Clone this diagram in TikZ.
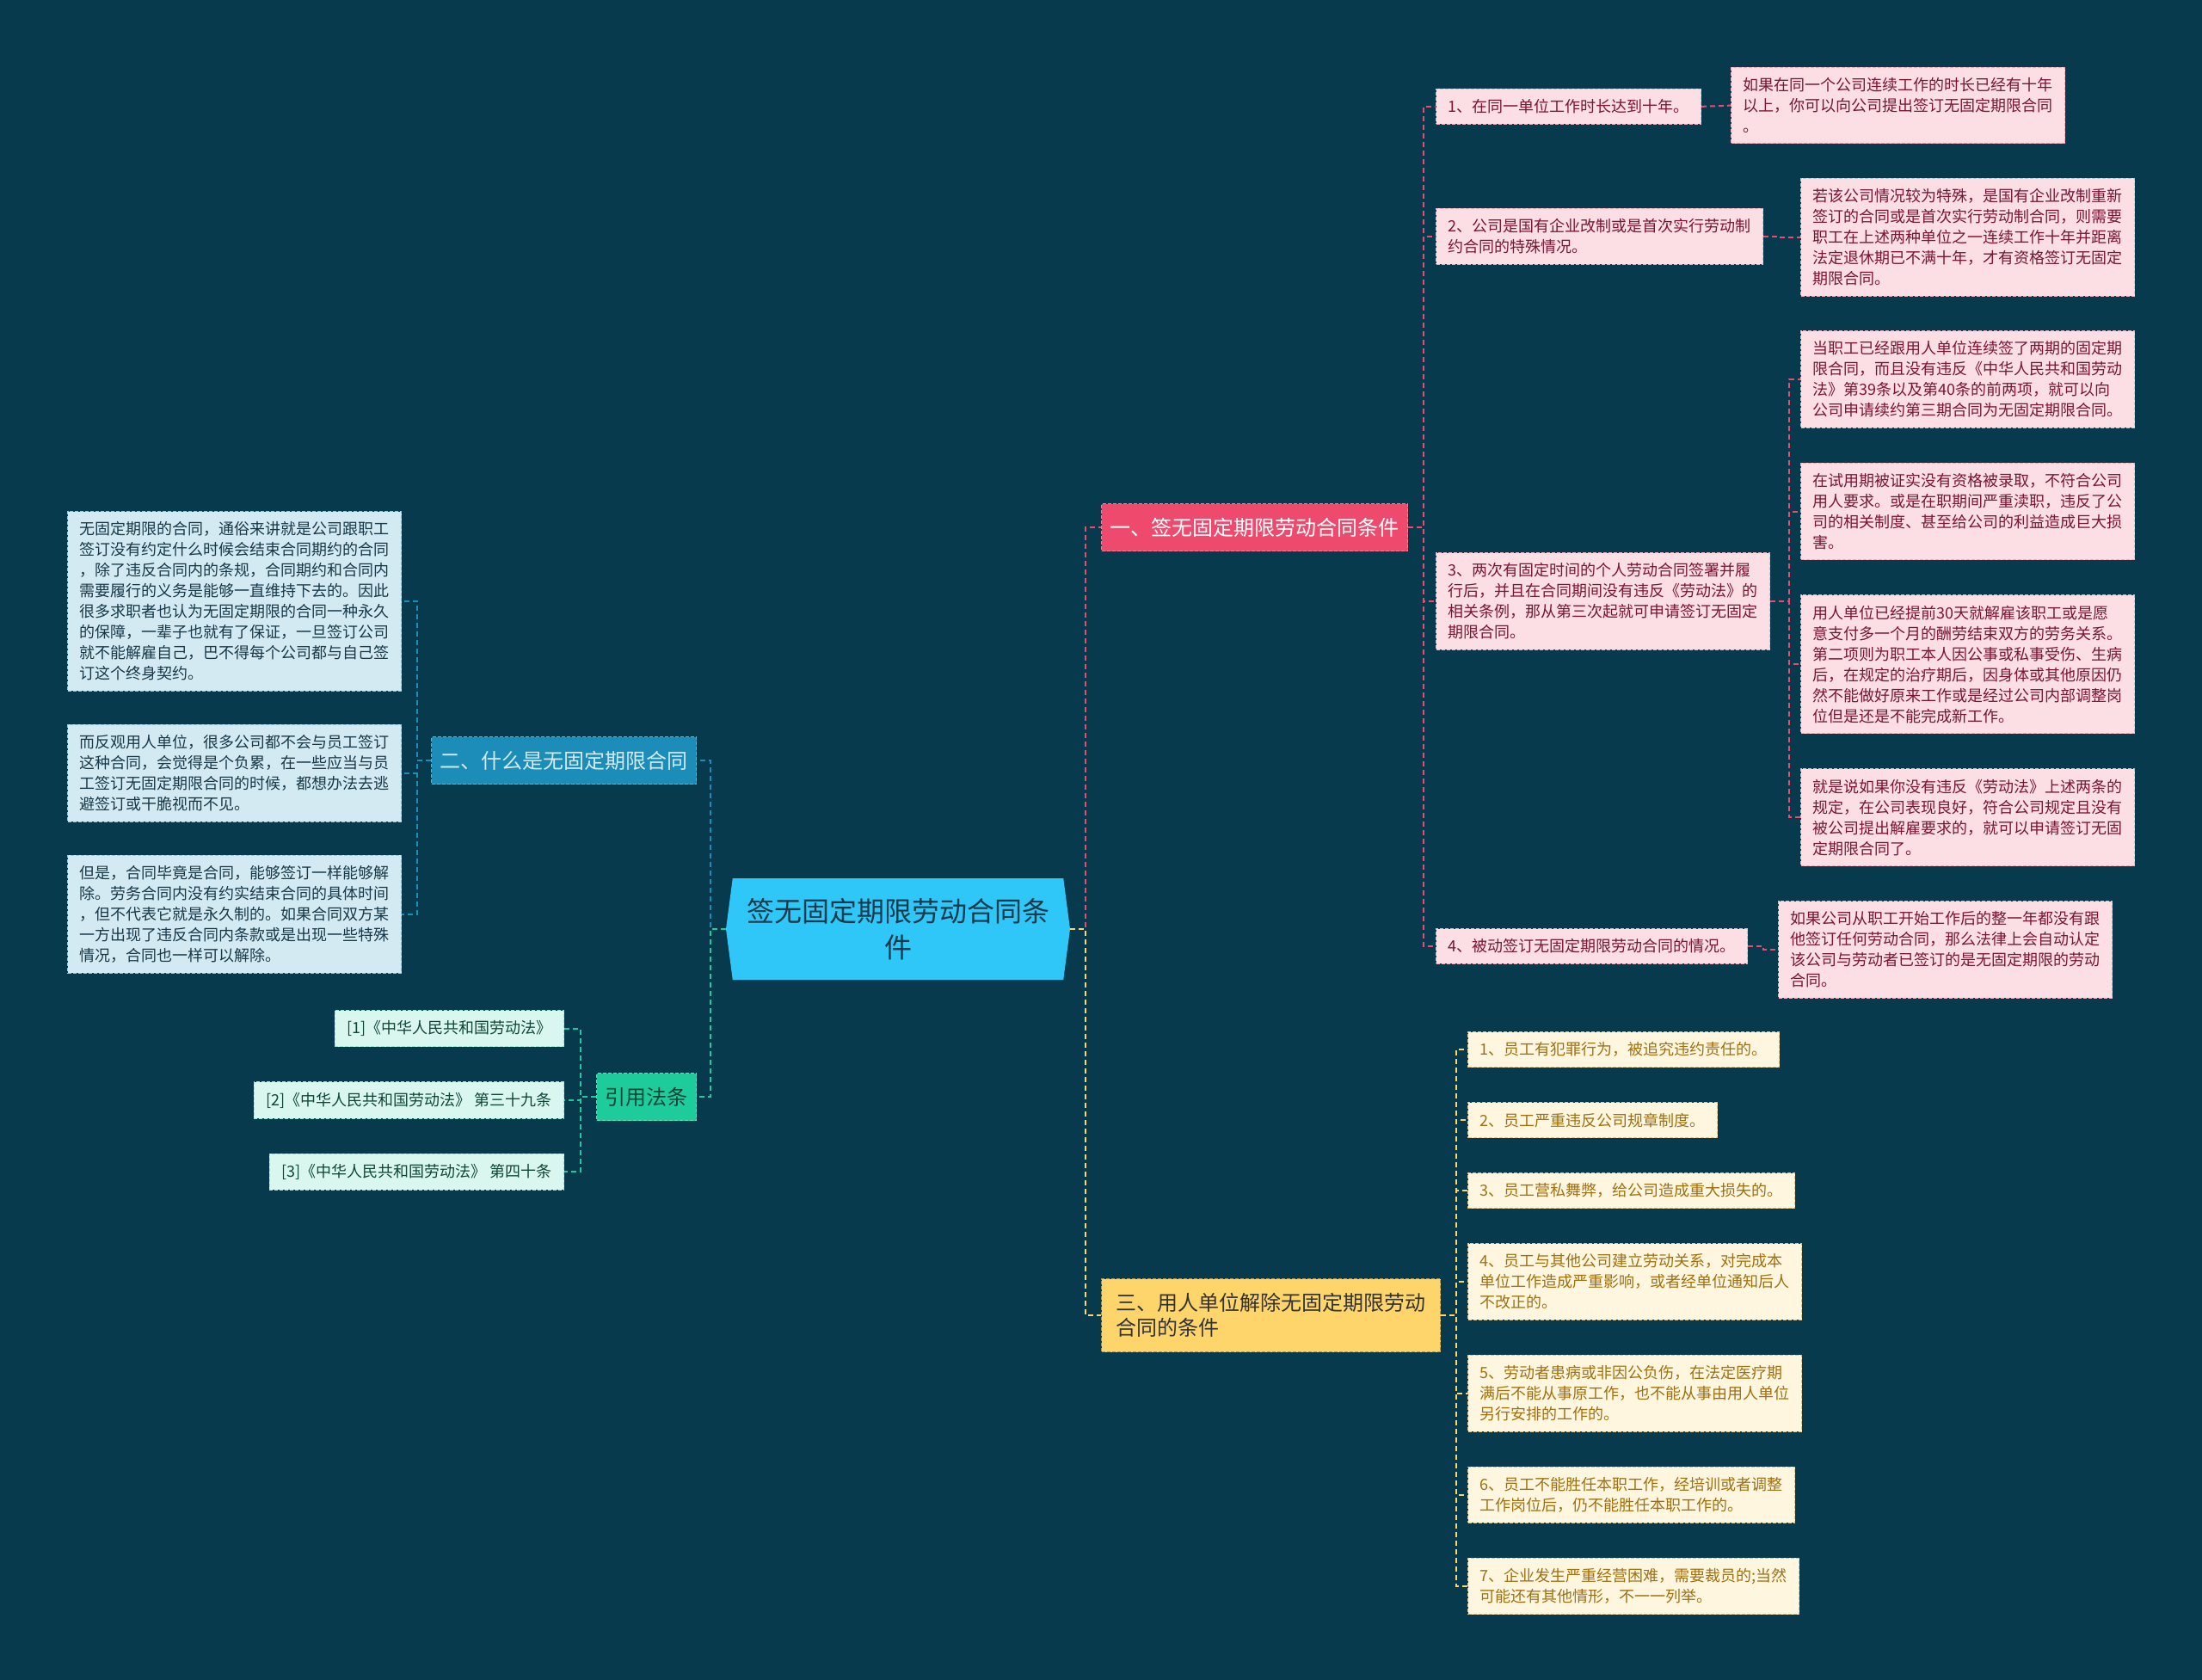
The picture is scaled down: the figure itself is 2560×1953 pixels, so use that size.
\documentclass[tikz,border=0pt]{standalone}
\usepackage{fontspec}
\setmainfont{Noto Sans CJK SC}
\definecolor{mapBg}{RGB}{8,58,77}
\definecolor{mapCyan}{RGB}{46,199,247}
\definecolor{mapCyanTx}{RGB}{24,58,76}
\definecolor{mapPink}{RGB}{238,74,110}
\definecolor{mapPinkLt}{RGB}{252,222,229}
\definecolor{mapPinkTx}{RGB}{122,22,50}
\definecolor{mapBlue}{RGB}{27,141,184}
\definecolor{mapBlueLt}{RGB}{211,234,242}
\definecolor{mapBlueTx}{RGB}{22,56,72}
\definecolor{mapGreen}{RGB}{29,203,155}
\definecolor{mapGreenLt}{RGB}{217,247,239}
\definecolor{mapGreenTx}{RGB}{14,70,56}
\definecolor{mapYellow}{RGB}{253,213,107}
\definecolor{mapYellowLt}{RGB}{255,246,223}
\definecolor{mapYellowTx}{RGB}{160,112,16}
\usetikzlibrary{positioning,shapes.symbols}

\begin{document}
\begin{tikzpicture}[x=0.5pt, y=-0.5pt,
  leaf/.style={draw, dashed, line width=0.5pt, dash pattern=on 2pt off 1pt,
               inner xsep=7pt, inner ysep=6pt, align=left,
               font=\fontsize{9}{12}\selectfont},
  pinkleaf/.style={leaf, fill=mapPinkLt, draw=mapPink!35!mapPinkLt, text=mapPinkTx},
  blueleaf/.style={leaf, fill=mapBlueLt, draw=mapBlue!35!mapBlueLt, text=mapBlueTx},
  greenleaf/.style={leaf, fill=mapGreenLt, draw=mapGreen!35!mapGreenLt, text=mapGreenTx},
  yellowleaf/.style={leaf, fill=mapYellowLt, draw=mapYellowTx!35!mapYellowLt, text=mapYellowTx},
  topic/.style={draw, dashed, line width=0.5pt, dash pattern=on 2pt off 1pt,
                inner xsep=5pt, minimum height=27.5pt, align=left,
                font=\fontsize{12}{14.5}\selectfont},
  link/.style={line width=1pt, dash pattern=on 3pt off 2pt}
]
  \useasboundingbox (0,0) rectangle (2560,1953);
  \fill[mapBg] (0,0) rectangle (2560,1953);

  \node[signal, signal to=west and east, signal pointer angle=165,
        fill=mapCyan, text=mapCyanTx, minimum width=200pt, minimum height=59pt,
        align=center, font=\fontsize{16}{21}\selectfont]
        (root) at (1044,1080) {签无固定期限劳动合同条\\件};

  \node[topic, fill=mapPink, draw=mapPink!70!white, text=white, anchor=north west]
        (cond) at (1280,585) {一、签无固定期限劳动合同条件};
  \node[topic, fill=mapYellow, draw=mapYellow!70!black, text=black!80,
        minimum width=197pt, inner ysep=8.5pt, anchor=north west]
        (fire) at (1280,1486) {三、用人单位解除无固定期限劳动\\合同的条件};
  \node[topic, fill=mapBlue, draw=mapBlue!70!white, text=mapBlueLt, anchor=north east]
        (what) at (810,856) {二、什么是无固定期限合同};
  \node[topic, fill=mapGreen, draw=mapGreen!70!white, text=mapGreenTx, anchor=north east]
        (laws) at (810,1247) {引用法条};

  \node[pinkleaf, anchor=north west] (c1) at (1669,103) {1、在同一单位工作时长达到十年。};
  \node[pinkleaf, anchor=north west] (c2) at (1669,242)
        {2、公司是国有企业改制或是首次实行劳动制\\约合同的特殊情况。};
  \node[pinkleaf, anchor=north west] (c3) at (1669,642)
        {3、两次有固定时间的个人劳动合同签署并履\\行后，并且在合同期间没有违反《劳动法》的\\相关条例，那从第三次起就可申请签订无固定\\期限合同。};
  \node[pinkleaf, anchor=north west] (c4) at (1669,1079) {4、被动签订无固定期限劳动合同的情况。};

  \node[pinkleaf, anchor=north west] (c1x) at (2012,78)
        {如果在同一个公司连续工作的时长已经有十年\\以上，你可以向公司提出签订无固定期限合同\\。};
  \node[pinkleaf, anchor=north west] (c2x) at (2093,207)
        {若该公司情况较为特殊，是国有企业改制重新\\签订的合同或是首次实行劳动制合同，则需要\\职工在上述两种单位之一连续工作十年并距离\\法定退休期已不满十年，才有资格签订无固定\\期限合同。};
  \node[pinkleaf, anchor=north west] (c3a) at (2093,384)
        {当职工已经跟用人单位连续签了两期的固定期\\限合同，而且没有违反《中华人民共和国劳动\\法》第39条以及第40条的前两项，就可以向\\公司申请续约第三期合同为无固定期限合同。};
  \node[pinkleaf, below right=20pt and 0pt of c3a.south west] (c3b)
        {在试用期被证实没有资格被录取，不符合公司\\用人要求。或是在职期间严重渎职，违反了公\\司的相关制度、甚至给公司的利益造成巨大损\\害。};
  \node[pinkleaf, below right=20pt and 0pt of c3b.south west] (c3c)
        {用人单位已经提前30天就解雇该职工或是愿\\意支付多一个月的酬劳结束双方的劳务关系。\\第二项则为职工本人因公事或私事受伤、生病\\后，在规定的治疗期后，因身体或其他原因仍\\然不能做好原来工作或是经过公司内部调整岗\\位但是还是不能完成新工作。};
  \node[pinkleaf, below right=20pt and 0pt of c3c.south west] (c3d)
        {就是说如果你没有违反《劳动法》上述两条的\\规定，在公司表现良好，符合公司规定且没有\\被公司提出解雇要求的，就可以申请签订无固\\定期限合同了。};
  \node[pinkleaf, anchor=north west] (c4x) at (2067,1047)
        {如果公司从职工开始工作后的整一年都没有跟\\他签订任何劳动合同，那么法律上会自动认定\\该公司与劳动者已签订的是无固定期限的劳动\\合同。};

  \node[yellowleaf, anchor=north west] (f1) at (1706,1199) {1、员工有犯罪行为，被追究违约责任的。};
  \node[yellowleaf, below right=20pt and 0pt of f1.south west] (f2) {2、员工严重违反公司规章制度。};
  \node[yellowleaf, below right=20pt and 0pt of f2.south west] (f3) {3、员工营私舞弊，给公司造成重大损失的。};
  \node[yellowleaf, below right=20pt and 0pt of f3.south west] (f4)
        {4、员工与其他公司建立劳动关系，对完成本\\单位工作造成严重影响，或者经单位通知后人\\不改正的。};
  \node[yellowleaf, below right=20pt and 0pt of f4.south west] (f5)
        {5、劳动者患病或非因公负伤，在法定医疗期\\满后不能从事原工作，也不能从事由用人单位\\另行安排的工作的。};
  \node[yellowleaf, below right=20pt and 0pt of f5.south west] (f6)
        {6、员工不能胜任本职工作，经培训或者调整\\工作岗位后，仍不能胜任本职工作的。};
  \node[yellowleaf, below right=20pt and 0pt of f6.south west] (f7)
        {7、企业发生严重经营困难，需要裁员的;当然\\可能还有其他情形，不一一列举。};

  \node[blueleaf, anchor=north west] (w1) at (78,594)
        {无固定期限的合同，通俗来讲就是公司跟职工\\签订没有约定什么时候会结束合同期约的合同\\，除了违反合同内的条规，合同期约和合同内\\需要履行的义务是能够一直维持下去的。因此\\很多求职者也认为无固定期限的合同一种永久\\的保障，一辈子也就有了保证，一旦签订公司\\就不能解雇自己，巴不得每个公司都与自己签\\订这个终身契约。};
  \node[blueleaf, below right=19pt and 0pt of w1.south west] (w2)
        {而反观用人单位，很多公司都不会与员工签订\\这种合同，会觉得是个负累，在一些应当与员\\工签订无固定期限合同的时候，都想办法去逃\\避签订或干脆视而不见。};
  \node[blueleaf, below right=19pt and 0pt of w2.south west] (w3)
        {但是，合同毕竟是合同，能够签订一样能够解\\除。劳务合同内没有约实结束合同的具体时间\\，但不代表它就是永久制的。如果合同双方某\\一方出现了违反合同内条款或是出现一些特殊\\情况，合同也一样可以解除。};

  \node[greenleaf, anchor=north east] (l1) at (656,1174) {[1]《中华人民共和国劳动法》};
  \node[greenleaf, below left=20pt and 0pt of l1.south east] (l2) {[2]《中华人民共和国劳动法》 第三十九条};
  \node[greenleaf, below left=20pt and 0pt of l2.south east] (l3) {[3]《中华人民共和国劳动法》 第四十条};

  \draw[link, mapPink] (root.east) -- ++(18,0) |- (cond.west);
  \draw[link, mapYellow] (root.east) -- ++(18,0) |- (fire.west);
  \draw[link, mapBlue] (root.west) -- ++(-18,0) |- (what.east);
  \draw[link, mapGreen] (root.west) -- ++(-18,0) |- (laws.east);

  \draw[link, mapPink] (cond.east) -- ++(18,0) |- (c1.west)
        (cond.east) -- ++(18,0) |- (c2.west)
        (cond.east) -- ++(18,0) |- (c3.west)
        (cond.east) -- ++(18,0) |- (c4.west);
  \draw[link, mapPink] (c1.east) -- (c1x.west);
  \draw[link, mapPink] (c2.east) -- ++(18,0) |- (c2x.west);
  \draw[link, mapPink] (c3.east) -- ++(22,0) |- (c3a.west)
        (c3.east) -- ++(22,0) |- (c3b.west)
        (c3.east) -- ++(22,0) |- (c3c.west)
        (c3.east) -- ++(22,0) |- (c3d.west);
  \draw[link, mapPink] (c4.east) -- ++(18,0) |- (c4x.west);

  \draw[link, mapYellow] (fire.east) -- ++(18,0) |- (f1.west)
        (fire.east) -- ++(18,0) |- (f2.west)
        (fire.east) -- ++(18,0) |- (f3.west)
        (fire.east) -- ++(18,0) |- (f4.west)
        (fire.east) -- ++(18,0) |- (f5.west)
        (fire.east) -- ++(18,0) |- (f6.west)
        (fire.east) -- ++(18,0) |- (f7.west);

  \draw[link, mapBlue] (what.west) -- ++(-16,0) |- (w1.east)
        (what.west) -- ++(-16,0) |- (w2.east)
        (what.west) -- ++(-16,0) |- (w3.east);

  \draw[link, mapGreen] (laws.west) -- ++(-18,0) |- (l1.east)
        (laws.west) -- ++(-18,0) |- (l2.east)
        (laws.west) -- ++(-18,0) |- (l3.east);
\end{tikzpicture}
\end{document}
